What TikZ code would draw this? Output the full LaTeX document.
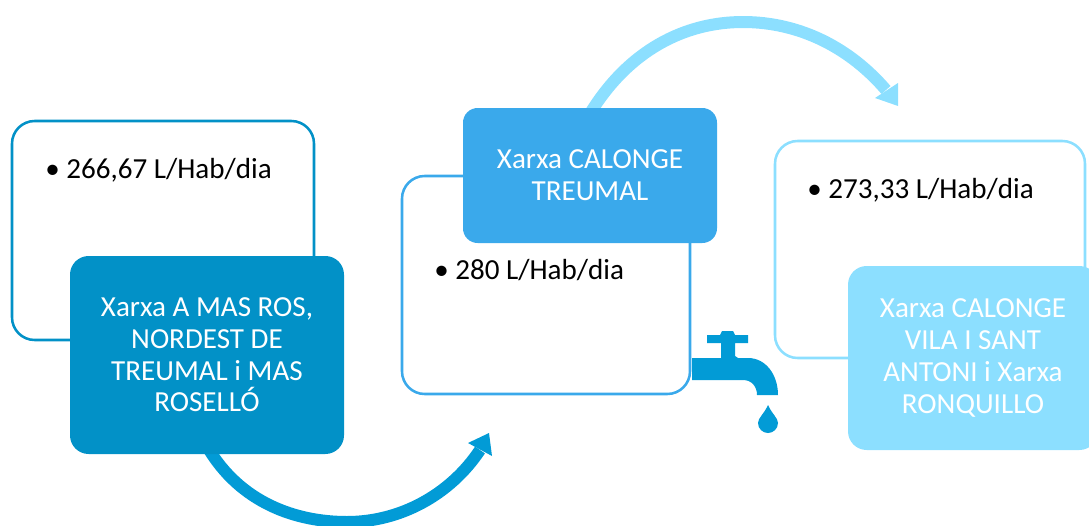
\documentclass[tikz,border=0pt]{standalone}
\usepackage{fontspec}
\setmainfont{Carlito}
\usetikzlibrary{arrows.meta,backgrounds}
\definecolor{cA}{HTML}{0291C7}
\definecolor{cArc}{HTML}{029BD6}
\definecolor{cB}{HTML}{3AA9EB}
\definecolor{cC}{HTML}{8CDFFF}
\def\px{0.75pt}
\tikzset{
  x=0.75pt,y=-0.75pt,
  outline/.style={draw=#1,fill=white,line width=1.9pt,rounded corners=17pt,inner sep=0pt},
  front/.style={fill=#1,text=white,rounded corners=14pt,inner sep=0pt,align=center,font=\fontsize{21.8}{23.8}\selectfont},
  bullet/.style={anchor=west,inner sep=0pt,font=\fontsize{21.8}{23.8}\selectfont,text=black},
  arcline/.style={draw=#1,line width=9pt},
  arcend/.style={fill=#1,draw=none},
}
\begin{document}
\begin{tikzpicture}
\useasboundingbox (0,0) rectangle (1089,525);
% outlines
\node[outline=cA,minimum width=302*\px,minimum height=219*\px] (oa) at (163,230.5) {};
\node[outline=cB,minimum width=288*\px,minimum height=218*\px] (ob) at (546,285) {};
\node[outline=cC,minimum width=310*\px,minimum height=217*\px] (oc) at (930,249.5) {};
% front boxes
\node[front=cA,minimum width=274*\px,minimum height=198*\px] (fa) at (207,355)
  {Xarxa A MAS ROS,\\NORDEST DE\\TREUMAL i MAS\\ROSELLÓ};
\node[front=cB,rounded corners=11pt,minimum width=254*\px,minimum height=135*\px] (fb) at (590,175.5)
  {Xarxa CALONGE\\TREUMAL};
\node[front=cC,minimum width=250*\px,minimum height=184*\px] (fc) at (973,358)
  {Xarxa CALONGE\\VILA I SANT\\ANTONI i Xarxa\\RONQUILLO};
% bullets
\node[bullet] (ta) at (45,170) {•\hspace{5pt}266,67 L/Hab/dia};
\node[bullet] (tb) at (434,270) {•\hspace{5pt}280 L/Hab/dia};
\node[bullet] (tc) at (807,190) {•\hspace{5pt}273,33 L/Hab/dia};
% arcs
\coordinate (ha) at (480,450);
\coordinate (hb) at (886,90);
\begin{scope}[on background layer]
\draw[arcline=cArc] ([xshift=0pt,yshift=6pt]fa.south) .. controls (240,503) and (296,522) .. (347,522)
   .. controls (400,522) and (450,495) .. (ha);
\draw[arcline=cC] ([xshift=-1pt,yshift=-6pt]fb.north) .. controls (628,50) and (685,22) .. (743,22)
   .. controls (800,22) and (850,48) .. (hb);
\end{scope}
\fill[arcend=cArc] (468,443) -- (489,433) -- (492,456) -- cycle;
\fill[arcend=cC] (898,83) -- (898,106) -- (875,98) -- cycle;
% tap
\fill[cArc] (692,358) -- (721,358) -- (721,343) -- (707,343) -- (707,335) -- (720,335)
  -- (722,331) -- (733,331) -- (735,335) -- (748,335) -- (748,343) -- (735,343) -- (735,356) -- (738,358)
  -- (748,358) .. controls (766,358) and (778,375) .. (778,395) -- (757,395)
  .. controls (757,387) and (752,380) .. (743,380) -- (692,380) -- cycle;
\fill[cArc] (768,405) .. controls (772,414) and (778,418) .. (778,423)
  .. controls (778,429) and (773,433) .. (768,433)
  .. controls (763,433) and (758,429) .. (758,423)
  .. controls (758,418) and (764,414) .. (768,405) -- cycle;
\end{tikzpicture}
\end{document}
